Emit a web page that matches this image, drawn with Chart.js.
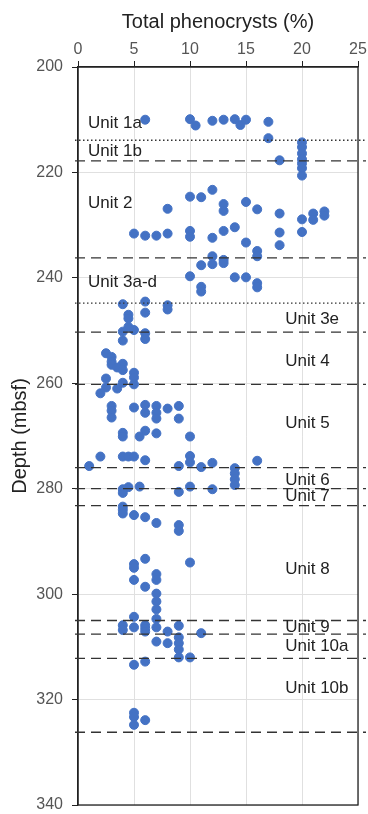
<!DOCTYPE html>
<html lang="en">
<head>
  <meta charset="UTF-8" />
  <title>Total phenocrysts vs depth</title>
  <script src="https://cdn.jsdelivr.net/npm/chart.js"></script>
  <style>
    body {
      margin: 0;
      padding: 0;
      background: white;
    }

    #wrap {
      position: relative;
      width: 368px;
      height: 814px;
    }
  </style>
</head>
<body>

  <div id="wrap">
    <canvas id="phenoChart" width="368" height="814"></canvas>
  </div>

  <script>
    // phenocryst % and depth (mbsf)
    const phenocrysts = [
      6, 10, 10.5, 12, 13, 14, 14.5, 15, 17, 17,
      18, 20, 20, 20, 20, 20, 20, 20,
      12, 10, 11, 15, 13, 8, 16, 13, 22, 18, 21, 22, 20, 21, 14, 13, 10, 20, 18, 5, 8, 6, 7, 10, 12, 15, 18, 16, 16, 12,
      13, 13, 12, 11, 10, 14, 15, 16, 16, 11, 11, 6, 4, 8,
      8, 6, 4.5, 4.5, 4.5, 5, 4, 6,
      6, 4, 2.5, 3, 3, 4, 3, 3.5, 4, 5, 5, 2.5, 4, 5, 2.5, 3.5, 2,
      3, 5, 6, 7, 8, 9, 3, 6, 7, 3, 7, 9, 6, 4, 7, 4, 5.5, 10, 2, 4, 4.5, 5, 10, 6, 16, 10, 12, 1, 9, 11,
      14, 14, 14, 14, 5.5, 10, 4.5, 4, 12, 9, 4,
      4, 4, 4, 5, 6, 7, 9, 9, 6, 10, 5, 5, 7, 7, 5, 6, 7, 7, 7, 7, 5,
      4, 4, 5, 6, 6, 6, 7, 9, 8,
      11, 9, 7, 8, 9, 9, 9, 10,
      6, 5, 5, 5, 5, 6
    ];
    const depths = [
      210.0, 209.9, 211.1, 210.2, 210.0, 209.9, 211.0, 210.0, 210.4, 213.5,
      217.7, 214.3, 215.2, 216.4, 217.5, 218.3, 219.2, 220.6,
      223.3, 224.6, 224.7, 225.6, 226.0, 226.9, 227.0, 227.3, 227.4, 227.8, 227.8, 228.2, 228.9, 229.0, 230.4, 231.1, 231.1, 231.3, 231.4, 231.6, 231.6, 232.0, 232.0, 232.2, 232.4, 233.3, 233.8, 234.9, 235.9, 235.9,
      236.6, 237.2, 237.4, 237.6, 239.7, 239.9, 239.9, 241.0, 241.8, 241.7, 242.6, 244.5, 245.0, 245.2,
      246.0, 246.6, 247.0, 247.7, 249.3, 249.9, 250.2, 250.5,
      251.6, 251.9, 254.3, 255.0, 255.9, 256.3, 256.5, 257.0, 257.5, 258.0, 258.9, 259.1, 259.9, 260.2, 260.8, 261.0, 261.9,
      264.3, 264.6, 264.1, 264.3, 264.8, 264.3, 265.2, 265.6, 265.6, 266.5, 266.7, 266.7, 269.0, 269.4, 269.5, 270.1, 270.1, 270.1, 273.9, 273.9, 273.9, 273.9, 273.8, 274.6, 274.7, 275.0, 275.1, 275.7, 275.7, 275.9,
      276.1, 277.1, 278.2, 279.3, 279.6, 279.6, 279.7, 280.1, 280.1, 280.6, 280.8,
      283.4, 284.0, 284.7, 285.0, 285.4, 286.5, 286.9, 288.0, 293.3, 294.0, 294.3, 295.0, 296.2, 297.3, 297.3, 298.6, 299.9, 301.4, 302.9, 304.7, 304.3,
      305.9, 306.8, 306.3, 305.9, 306.5, 307.1, 306.3, 306.0, 307.1,
      307.4, 308.2, 309.0, 309.3, 309.3, 310.5, 312.0, 312.0,
      312.8, 313.4, 322.5, 323.3, 324.8, 323.9
    ];

    // unit boundaries
    const boundaryDepths = [213.9, 217.8, 236.2, 244.8, 250.3, 260.2, 276.0, 280.0, 283.2, 305.0, 307.6, 312.2, 326.2];
    const boundaryStyles = ['dot', 'dash', 'dash', 'dot', 'dash', 'dash', 'dash', 'dash', 'dash', 'dash', 'dash', 'dash', 'dash'];

    // unit labels
    const unitNames = ['Unit 1a', 'Unit 1b', 'Unit 2', 'Unit 3a-d', 'Unit 3e', 'Unit 4', 'Unit 5', 'Unit 6', 'Unit 7', 'Unit 8', 'Unit 9', 'Unit 10a', 'Unit 10b'];
    const unitX = [0.9, 0.9, 0.9, 0.9, 18.5, 18.5, 18.5, 18.5, 18.5, 18.5, 18.5, 18.5, 18.5];
    const unitDepths = [210.6, 215.9, 225.8, 240.9, 247.8, 255.8, 267.6, 278.4, 281.5, 295.2, 306.2, 309.9, 317.9];

    const xTicks = [0, 5, 10, 15, 20, 25];
    const yTicks = [200, 220, 240, 260, 280, 300, 320, 340];

    const FONT = "'Liberation Sans', Arial, sans-serif";

    const unitPlugin = {
      id: 'units',
      afterDatasetsDraw(chart) {
        const c = chart.ctx;
        const xs = chart.scales.x;
        const ys = chart.scales.y;
        const area = chart.chartArea;

        // frame
        c.save();
        c.strokeStyle = '#222';
        c.lineWidth = 1.3;
        c.strokeRect(area.left, area.top, area.right - area.left, area.bottom - area.top);

        // boundaries
        c.strokeStyle = '#333';
        c.lineWidth = 1.3;
        boundaryDepths.forEach((d, i) => {
          const y = ys.getPixelForValue(d);
          c.setLineDash(boundaryStyles[i] === 'dot' ? [1.5, 2.5] : [10, 6]);
          c.beginPath();
          c.moveTo(area.left - 3, y);
          c.lineTo(area.right + 8, y);
          c.stroke();
        });
        c.setLineDash([]);

        // labels
        c.fillStyle = '#222';
        c.font = '17px ' + FONT;
        c.textAlign = 'left';
        c.textBaseline = 'middle';
        unitNames.forEach((name, i) => {
          c.fillText(name, xs.getPixelForValue(unitX[i]), ys.getPixelForValue(unitDepths[i]));
        });
        c.restore();
      }
    };

    const ctx = document.getElementById('phenoChart').getContext('2d');
    const chart = new Chart(ctx, {
      type: 'scatter',
      data: {
        datasets: [{
          data: phenocrysts.map((v, i) => ({ x: v, y: depths[i] })),
          backgroundColor: '#4472c4',
          borderColor: '#4472c4',
          pointRadius: 4.5,
          pointHoverRadius: 4.5
        }]
      },
      options: {
        responsive: false,
        animation: false,
        layout: { padding: { right: 10, bottom: 9 } },
        plugins: {
          legend: { display: false },
          tooltip: { enabled: false }
        },
        scales: {
          x: {
            type: 'linear',
            position: 'top',
            min: 0,
            max: 25,
            afterBuildTicks: s => { s.ticks = xTicks.map(v => ({ value: v })); },
            afterFit: s => {
              s.height = 67;
              s.paddingLeft = 0;
              s.paddingRight = 0;
            },
            ticks: { color: '#555', font: { family: FONT, size: 16 }, padding: 2, maxRotation: 0 },
            grid: { color: '#e0e0e0', tickColor: '#222', tickLength: 6 },
            border: { color: '#222', width: 1.3 },
            title: {
              display: true,
              text: 'Total phenocrysts (%)',
              color: '#222',
              font: { family: FONT, size: 20 },
              padding: { top: 10, bottom: 2 }
            }
          },
          y: {
            type: 'linear',
            reverse: true,
            min: 200,
            max: 340,
            afterBuildTicks: s => { s.ticks = yTicks.map(v => ({ value: v })); },
            afterFit: s => {
              s.width = 78;
              s.paddingTop = 0;
              s.paddingBottom = 0;
            },
            ticks: { color: '#555', font: { family: FONT, size: 16 }, padding: 9 },
            grid: { color: '#e0e0e0', tickColor: '#222', tickLength: 6 },
            border: { color: '#222', width: 1.3 },
            title: {
              display: true,
              text: 'Depth (mbsf)',
              color: '#222',
              font: { family: FONT, size: 20 },
              padding: { top: 8, bottom: 4 }
            }
          }
        }
      },
      plugins: [unitPlugin]
    });
  </script>
</body>
</html>
